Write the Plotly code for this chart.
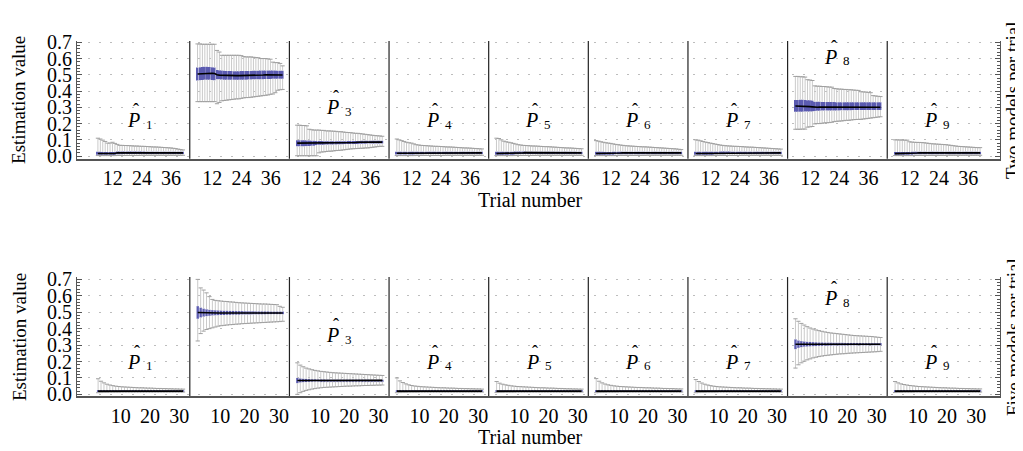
import plotly.graph_objects as go

# ---------------- data ----------------
TRIALS_TOP = list(range(1, 37))
TRIALS_BOT = list(range(1, 31))
PARAM_IDS = ["1", "2", "3", "4", "5", "6", "7", "8", "9"]
TICKS_TOP = [12, 24, 36]
TICKS_BOT = [10, 20, 30]
Y_TICKS = [0.0, 0.1, 0.2, 0.3, 0.4, 0.5, 0.6, 0.7]
ROW_LABELS = ["Two models per trial", "Five models per trial"]

# ----- two models per trial (36 trials) -----
TOP_HI = [
    [0.110,0.105,0.098,0.090,0.080,0.080,0.085,0.078,0.072,0.066,0.066,0.065,0.065,0.064,0.063,0.062,0.062,0.061,0.060,0.060,0.059,0.058,0.057,0.056,0.056,0.055,0.054,0.053,0.052,0.051,0.050,0.048,0.046,0.043,0.040,0.038],
    [0.690,0.690,0.688,0.688,0.688,0.688,0.688,0.688,0.650,0.640,0.620,0.620,0.620,0.620,0.620,0.620,0.620,0.620,0.618,0.612,0.610,0.610,0.610,0.608,0.606,0.605,0.600,0.600,0.600,0.598,0.596,0.578,0.575,0.575,0.570,0.555],
    [0.190,0.190,0.188,0.188,0.186,0.165,0.162,0.160,0.160,0.160,0.158,0.158,0.155,0.155,0.154,0.153,0.152,0.150,0.150,0.148,0.146,0.145,0.144,0.142,0.140,0.140,0.138,0.136,0.134,0.132,0.130,0.128,0.126,0.125,0.124,0.122],
    [0.105,0.100,0.095,0.090,0.085,0.082,0.080,0.075,0.070,0.068,0.066,0.065,0.064,0.063,0.062,0.061,0.060,0.060,0.059,0.058,0.057,0.056,0.056,0.055,0.054,0.053,0.052,0.051,0.050,0.050,0.049,0.048,0.047,0.046,0.045,0.044],
    [0.110,0.108,0.100,0.092,0.088,0.085,0.082,0.078,0.074,0.070,0.068,0.066,0.065,0.064,0.063,0.062,0.062,0.061,0.060,0.059,0.058,0.058,0.057,0.056,0.055,0.054,0.053,0.052,0.051,0.050,0.050,0.049,0.048,0.047,0.046,0.045],
    [0.095,0.092,0.088,0.085,0.082,0.080,0.078,0.075,0.072,0.070,0.068,0.066,0.064,0.063,0.062,0.061,0.060,0.059,0.058,0.057,0.057,0.056,0.055,0.054,0.053,0.052,0.051,0.050,0.049,0.048,0.047,0.046,0.045,0.044,0.042,0.040],
    [0.100,0.098,0.094,0.090,0.086,0.083,0.080,0.077,0.074,0.071,0.068,0.066,0.064,0.063,0.062,0.061,0.060,0.060,0.059,0.058,0.057,0.056,0.055,0.055,0.054,0.053,0.052,0.051,0.050,0.049,0.048,0.047,0.046,0.045,0.044,0.043],
    [0.490,0.490,0.488,0.488,0.486,0.470,0.468,0.465,0.432,0.430,0.430,0.428,0.428,0.426,0.425,0.424,0.416,0.414,0.412,0.412,0.410,0.410,0.408,0.408,0.406,0.405,0.404,0.396,0.395,0.394,0.392,0.390,0.372,0.370,0.368,0.366],
    [0.100,0.100,0.099,0.099,0.098,0.098,0.088,0.086,0.085,0.084,0.084,0.083,0.082,0.080,0.078,0.076,0.075,0.074,0.073,0.072,0.071,0.070,0.068,0.066,0.064,0.062,0.060,0.059,0.058,0.057,0.056,0.055,0.054,0.053,0.052,0.052],
]
TOP_Q3 = [
    [0.026,0.026,0.025,0.025,0.025,0.025,0.025,0.025,0.028,0.028,0.028,0.028,0.028,0.028,0.028,0.028,0.028,0.028,0.028,0.028,0.027,0.027,0.027,0.027,0.027,0.027,0.027,0.027,0.027,0.027,0.027,0.026,0.026,0.026,0.026,0.026],
    [0.545,0.546,0.548,0.550,0.550,0.548,0.546,0.545,0.530,0.528,0.526,0.525,0.524,0.524,0.523,0.522,0.522,0.522,0.523,0.523,0.524,0.524,0.524,0.525,0.525,0.525,0.526,0.526,0.526,0.526,0.526,0.526,0.526,0.525,0.525,0.525],
    [0.098,0.098,0.097,0.097,0.096,0.096,0.095,0.095,0.093,0.093,0.093,0.092,0.092,0.092,0.092,0.092,0.092,0.092,0.092,0.092,0.092,0.093,0.093,0.093,0.093,0.093,0.093,0.094,0.094,0.094,0.094,0.094,0.094,0.094,0.094,0.094],
    [0.027,0.027,0.027,0.026,0.026,0.026,0.026,0.026,0.027,0.027,0.027,0.027,0.027,0.027,0.027,0.027,0.027,0.027,0.027,0.027,0.027,0.027,0.027,0.027,0.027,0.027,0.026,0.026,0.026,0.026,0.026,0.026,0.026,0.026,0.026,0.026],
    [0.027,0.026,0.026,0.026,0.026,0.026,0.026,0.026,0.028,0.028,0.028,0.028,0.028,0.027,0.027,0.027,0.027,0.027,0.027,0.027,0.027,0.027,0.027,0.027,0.027,0.027,0.027,0.027,0.026,0.026,0.026,0.026,0.026,0.026,0.026,0.026],
    [0.026,0.026,0.026,0.026,0.025,0.025,0.025,0.026,0.027,0.027,0.027,0.027,0.027,0.027,0.027,0.027,0.027,0.027,0.027,0.027,0.027,0.027,0.027,0.027,0.026,0.026,0.026,0.026,0.026,0.026,0.026,0.026,0.026,0.026,0.026,0.026],
    [0.026,0.026,0.026,0.026,0.026,0.026,0.026,0.026,0.027,0.027,0.028,0.028,0.028,0.028,0.028,0.027,0.027,0.027,0.027,0.027,0.027,0.027,0.027,0.027,0.027,0.027,0.027,0.026,0.026,0.026,0.026,0.026,0.026,0.026,0.026,0.026],
    [0.345,0.345,0.346,0.346,0.345,0.344,0.343,0.342,0.335,0.334,0.334,0.333,0.333,0.332,0.332,0.332,0.332,0.331,0.331,0.331,0.331,0.331,0.331,0.331,0.331,0.331,0.331,0.331,0.331,0.331,0.331,0.331,0.331,0.331,0.331,0.331],
    [0.025,0.025,0.025,0.025,0.025,0.025,0.025,0.026,0.027,0.027,0.027,0.027,0.027,0.027,0.027,0.027,0.027,0.027,0.027,0.027,0.027,0.027,0.027,0.027,0.027,0.027,0.027,0.027,0.026,0.026,0.026,0.026,0.026,0.026,0.026,0.026],
]
TOP_MED = [
    [0.016,0.016,0.016,0.015,0.015,0.015,0.016,0.016,0.020,0.020,0.020,0.021,0.021,0.021,0.021,0.021,0.021,0.021,0.021,0.021,0.020,0.020,0.020,0.020,0.020,0.020,0.020,0.020,0.020,0.020,0.020,0.020,0.020,0.020,0.020,0.020],
    [0.505,0.506,0.507,0.509,0.510,0.511,0.510,0.508,0.500,0.498,0.497,0.497,0.496,0.496,0.495,0.495,0.495,0.495,0.495,0.495,0.496,0.496,0.497,0.497,0.498,0.498,0.499,0.499,0.500,0.500,0.500,0.501,0.501,0.500,0.500,0.499],
    [0.080,0.080,0.080,0.080,0.080,0.080,0.080,0.080,0.082,0.082,0.082,0.082,0.083,0.083,0.083,0.083,0.083,0.083,0.083,0.084,0.084,0.084,0.084,0.084,0.084,0.085,0.085,0.085,0.085,0.085,0.086,0.086,0.086,0.086,0.086,0.086],
    [0.017,0.017,0.016,0.016,0.016,0.016,0.016,0.017,0.019,0.019,0.020,0.020,0.020,0.020,0.020,0.020,0.020,0.020,0.020,0.020,0.020,0.020,0.020,0.020,0.020,0.020,0.020,0.020,0.020,0.020,0.020,0.020,0.020,0.020,0.020,0.020],
    [0.016,0.016,0.016,0.016,0.016,0.016,0.016,0.016,0.020,0.020,0.020,0.020,0.021,0.021,0.021,0.020,0.020,0.020,0.020,0.020,0.020,0.020,0.020,0.020,0.020,0.020,0.020,0.020,0.020,0.020,0.020,0.020,0.020,0.020,0.020,0.020],
    [0.016,0.016,0.015,0.015,0.015,0.015,0.016,0.016,0.019,0.019,0.019,0.020,0.020,0.020,0.020,0.020,0.020,0.020,0.020,0.020,0.020,0.020,0.020,0.020,0.020,0.020,0.020,0.020,0.020,0.020,0.020,0.020,0.020,0.020,0.020,0.020],
    [0.016,0.016,0.016,0.016,0.016,0.016,0.016,0.016,0.019,0.020,0.020,0.020,0.020,0.020,0.020,0.020,0.020,0.020,0.020,0.020,0.020,0.020,0.020,0.020,0.020,0.020,0.020,0.020,0.020,0.020,0.020,0.020,0.020,0.020,0.020,0.020],
    [0.308,0.308,0.308,0.307,0.306,0.305,0.304,0.303,0.300,0.300,0.301,0.301,0.300,0.300,0.300,0.299,0.299,0.300,0.300,0.300,0.300,0.300,0.301,0.301,0.300,0.300,0.300,0.300,0.300,0.300,0.300,0.301,0.301,0.300,0.300,0.300],
    [0.015,0.015,0.015,0.015,0.015,0.015,0.016,0.016,0.019,0.019,0.020,0.020,0.020,0.020,0.020,0.020,0.020,0.020,0.020,0.020,0.020,0.020,0.020,0.020,0.020,0.020,0.020,0.020,0.020,0.020,0.020,0.020,0.020,0.020,0.020,0.020],
]
TOP_Q1 = [
    [0.008,0.008,0.008,0.008,0.008,0.008,0.008,0.008,0.012,0.012,0.012,0.013,0.013,0.013,0.013,0.013,0.013,0.013,0.013,0.013,0.013,0.013,0.013,0.013,0.013,0.013,0.013,0.013,0.013,0.013,0.013,0.013,0.013,0.013,0.013,0.013],
    [0.465,0.466,0.468,0.470,0.470,0.470,0.468,0.466,0.472,0.472,0.471,0.470,0.470,0.469,0.469,0.469,0.469,0.469,0.470,0.470,0.470,0.471,0.471,0.472,0.472,0.472,0.473,0.473,0.474,0.474,0.474,0.475,0.475,0.475,0.475,0.475],
    [0.060,0.060,0.061,0.061,0.062,0.062,0.063,0.063,0.068,0.069,0.070,0.070,0.071,0.071,0.072,0.072,0.072,0.073,0.073,0.073,0.074,0.074,0.074,0.075,0.075,0.075,0.076,0.076,0.076,0.077,0.077,0.077,0.078,0.078,0.078,0.078],
    [0.009,0.009,0.009,0.009,0.009,0.009,0.009,0.009,0.012,0.012,0.012,0.012,0.013,0.013,0.013,0.013,0.013,0.013,0.013,0.013,0.013,0.013,0.013,0.013,0.013,0.013,0.013,0.013,0.013,0.013,0.013,0.013,0.013,0.013,0.013,0.013],
    [0.008,0.008,0.008,0.008,0.008,0.008,0.008,0.008,0.012,0.012,0.013,0.013,0.013,0.013,0.013,0.013,0.013,0.013,0.013,0.013,0.013,0.013,0.013,0.013,0.013,0.013,0.013,0.013,0.013,0.013,0.013,0.013,0.013,0.013,0.013,0.013],
    [0.008,0.008,0.008,0.008,0.008,0.008,0.008,0.008,0.011,0.011,0.012,0.012,0.012,0.012,0.012,0.012,0.012,0.012,0.012,0.012,0.012,0.012,0.012,0.012,0.012,0.012,0.012,0.012,0.012,0.012,0.012,0.012,0.012,0.012,0.012,0.012],
    [0.008,0.008,0.008,0.008,0.008,0.008,0.008,0.008,0.012,0.012,0.012,0.012,0.012,0.013,0.013,0.013,0.013,0.013,0.013,0.013,0.013,0.013,0.013,0.013,0.013,0.013,0.013,0.013,0.013,0.013,0.013,0.013,0.013,0.013,0.013,0.013],
    [0.272,0.272,0.273,0.273,0.274,0.274,0.275,0.275,0.278,0.279,0.279,0.280,0.280,0.280,0.280,0.281,0.281,0.281,0.281,0.282,0.282,0.282,0.282,0.282,0.283,0.283,0.283,0.283,0.283,0.284,0.284,0.284,0.284,0.284,0.284,0.284],
    [0.008,0.008,0.008,0.008,0.008,0.008,0.008,0.008,0.012,0.012,0.012,0.012,0.012,0.012,0.012,0.012,0.012,0.012,0.012,0.012,0.012,0.012,0.012,0.012,0.012,0.012,0.012,0.012,0.012,0.012,0.012,0.012,0.012,0.012,0.012,0.012],
]
TOP_LO = [
    [0.003,0.003,0.003,0.003,0.003,0.003,0.003,0.003,0.004,0.004,0.004,0.004,0.004,0.004,0.004,0.004,0.004,0.004,0.005,0.005,0.005,0.005,0.005,0.005,0.005,0.005,0.005,0.005,0.005,0.005,0.005,0.005,0.005,0.005,0.005,0.005],
    [0.335,0.335,0.335,0.335,0.335,0.335,0.335,0.335,0.322,0.330,0.340,0.342,0.344,0.346,0.348,0.350,0.352,0.352,0.355,0.358,0.360,0.360,0.362,0.364,0.366,0.368,0.370,0.372,0.374,0.376,0.380,0.382,0.390,0.405,0.408,0.410],
    [0.002,0.002,0.002,0.002,0.002,0.002,0.002,0.002,0.002,0.020,0.025,0.026,0.028,0.030,0.030,0.032,0.034,0.035,0.036,0.038,0.040,0.042,0.044,0.045,0.046,0.047,0.048,0.048,0.050,0.050,0.052,0.054,0.056,0.058,0.060,0.060],
    [0.003,0.003,0.003,0.003,0.003,0.003,0.003,0.003,0.004,0.004,0.004,0.004,0.004,0.004,0.004,0.004,0.004,0.004,0.004,0.004,0.005,0.005,0.005,0.005,0.005,0.005,0.005,0.005,0.005,0.005,0.005,0.005,0.005,0.005,0.005,0.005],
    [0.003,0.003,0.003,0.003,0.003,0.003,0.003,0.003,0.004,0.004,0.004,0.004,0.004,0.004,0.004,0.004,0.004,0.005,0.005,0.005,0.005,0.005,0.005,0.005,0.005,0.005,0.005,0.005,0.005,0.005,0.005,0.005,0.005,0.005,0.005,0.005],
    [0.003,0.003,0.003,0.003,0.003,0.003,0.003,0.003,0.003,0.004,0.004,0.004,0.004,0.004,0.004,0.004,0.004,0.004,0.004,0.004,0.004,0.005,0.005,0.005,0.005,0.005,0.005,0.005,0.005,0.005,0.005,0.005,0.005,0.005,0.005,0.005],
    [0.003,0.003,0.003,0.003,0.003,0.003,0.003,0.003,0.004,0.004,0.004,0.004,0.004,0.004,0.004,0.004,0.004,0.004,0.004,0.005,0.005,0.005,0.005,0.005,0.005,0.005,0.005,0.005,0.005,0.005,0.005,0.005,0.005,0.005,0.005,0.005],
    [0.165,0.165,0.165,0.166,0.166,0.178,0.180,0.182,0.198,0.200,0.200,0.202,0.204,0.205,0.206,0.208,0.212,0.214,0.215,0.216,0.218,0.220,0.220,0.222,0.224,0.225,0.226,0.226,0.228,0.230,0.232,0.234,0.236,0.238,0.240,0.242],
    [0.003,0.003,0.003,0.003,0.003,0.003,0.003,0.003,0.004,0.004,0.004,0.004,0.004,0.004,0.004,0.004,0.004,0.004,0.004,0.004,0.004,0.004,0.005,0.005,0.005,0.005,0.005,0.005,0.005,0.005,0.005,0.005,0.005,0.005,0.005,0.005],
]

# ----- five models per trial (30 trials) -----
BOT_HI = [
    [0.095,0.080,0.070,0.062,0.057,0.053,0.050,0.048,0.046,0.045,0.044,0.043,0.042,0.041,0.040,0.040,0.039,0.038,0.038,0.037,0.036,0.036,0.035,0.035,0.034,0.034,0.033,0.033,0.032,0.032],
    [0.700,0.648,0.635,0.618,0.595,0.578,0.572,0.570,0.568,0.566,0.565,0.563,0.562,0.560,0.558,0.557,0.556,0.555,0.554,0.553,0.552,0.551,0.550,0.550,0.549,0.548,0.547,0.546,0.536,0.530],
    [0.192,0.178,0.168,0.160,0.155,0.150,0.146,0.143,0.140,0.138,0.136,0.134,0.132,0.131,0.130,0.129,0.128,0.127,0.126,0.125,0.124,0.123,0.122,0.121,0.120,0.119,0.118,0.117,0.116,0.115],
    [0.100,0.082,0.072,0.064,0.058,0.054,0.051,0.049,0.047,0.046,0.045,0.044,0.043,0.042,0.041,0.040,0.040,0.039,0.038,0.038,0.037,0.036,0.036,0.035,0.035,0.034,0.034,0.033,0.033,0.032],
    [0.078,0.068,0.062,0.058,0.055,0.052,0.050,0.048,0.047,0.046,0.045,0.044,0.043,0.042,0.041,0.040,0.040,0.039,0.038,0.038,0.037,0.036,0.036,0.035,0.034,0.034,0.033,0.033,0.032,0.032],
    [0.096,0.080,0.070,0.063,0.058,0.055,0.052,0.050,0.048,0.047,0.046,0.045,0.044,0.043,0.042,0.042,0.041,0.040,0.040,0.039,0.038,0.038,0.037,0.036,0.036,0.035,0.035,0.034,0.033,0.033],
    [0.090,0.078,0.069,0.062,0.057,0.053,0.050,0.048,0.046,0.045,0.044,0.043,0.042,0.041,0.040,0.040,0.039,0.038,0.038,0.037,0.036,0.036,0.035,0.035,0.034,0.034,0.033,0.033,0.032,0.032],
    [0.460,0.445,0.432,0.422,0.412,0.404,0.398,0.392,0.388,0.384,0.380,0.377,0.374,0.372,0.370,0.368,0.366,0.364,0.362,0.360,0.358,0.357,0.356,0.355,0.354,0.353,0.352,0.350,0.348,0.346],
    [0.078,0.070,0.064,0.060,0.057,0.054,0.052,0.050,0.048,0.047,0.046,0.045,0.044,0.043,0.042,0.041,0.040,0.040,0.039,0.038,0.038,0.037,0.036,0.036,0.035,0.035,0.034,0.034,0.033,0.033],
]
BOT_Q3 = [
    [0.025,0.024,0.024,0.024,0.024,0.024,0.024,0.024,0.024,0.024,0.024,0.024,0.024,0.024,0.024,0.024,0.024,0.024,0.024,0.024,0.024,0.024,0.024,0.024,0.024,0.024,0.024,0.024,0.024,0.024],
    [0.537,0.528,0.522,0.518,0.515,0.513,0.512,0.511,0.510,0.509,0.509,0.508,0.508,0.507,0.507,0.507,0.506,0.506,0.506,0.506,0.505,0.505,0.505,0.505,0.505,0.504,0.504,0.504,0.504,0.504],
    [0.100,0.097,0.095,0.094,0.093,0.092,0.092,0.091,0.091,0.091,0.090,0.090,0.090,0.090,0.090,0.090,0.090,0.090,0.090,0.090,0.090,0.090,0.090,0.090,0.090,0.089,0.089,0.089,0.089,0.089],
    [0.025,0.025,0.024,0.024,0.024,0.024,0.024,0.024,0.024,0.024,0.024,0.024,0.024,0.024,0.024,0.024,0.024,0.024,0.024,0.024,0.024,0.024,0.024,0.024,0.024,0.024,0.024,0.024,0.024,0.024],
    [0.024,0.024,0.024,0.024,0.024,0.024,0.024,0.024,0.024,0.024,0.024,0.024,0.024,0.024,0.024,0.024,0.024,0.024,0.024,0.024,0.024,0.024,0.024,0.024,0.024,0.024,0.024,0.024,0.024,0.024],
    [0.025,0.024,0.024,0.024,0.024,0.024,0.024,0.024,0.024,0.024,0.024,0.024,0.024,0.024,0.024,0.024,0.024,0.024,0.024,0.024,0.024,0.024,0.024,0.024,0.024,0.024,0.024,0.024,0.024,0.024],
    [0.025,0.024,0.024,0.024,0.024,0.024,0.024,0.024,0.024,0.024,0.024,0.024,0.024,0.024,0.024,0.024,0.024,0.024,0.024,0.024,0.024,0.024,0.024,0.024,0.024,0.024,0.024,0.024,0.024,0.024],
    [0.335,0.328,0.324,0.322,0.320,0.319,0.318,0.317,0.316,0.316,0.315,0.315,0.315,0.314,0.314,0.314,0.314,0.313,0.313,0.313,0.313,0.313,0.313,0.312,0.312,0.312,0.312,0.312,0.312,0.312],
    [0.024,0.024,0.024,0.024,0.024,0.024,0.024,0.024,0.024,0.024,0.024,0.024,0.024,0.024,0.024,0.024,0.024,0.024,0.024,0.024,0.024,0.024,0.024,0.024,0.024,0.024,0.024,0.024,0.024,0.024],
]
BOT_MED = [
    [0.020,0.020,0.020,0.020,0.020,0.020,0.020,0.020,0.020,0.020,0.020,0.020,0.020,0.020,0.020,0.020,0.020,0.020,0.020,0.020,0.020,0.020,0.020,0.020,0.020,0.020,0.020,0.020,0.020,0.020],
    [0.498,0.497,0.496,0.495,0.495,0.495,0.495,0.495,0.495,0.495,0.495,0.495,0.495,0.495,0.495,0.495,0.495,0.495,0.495,0.495,0.495,0.495,0.495,0.495,0.495,0.495,0.495,0.495,0.495,0.495],
    [0.084,0.084,0.084,0.084,0.084,0.085,0.085,0.085,0.085,0.085,0.085,0.085,0.085,0.085,0.085,0.085,0.085,0.085,0.085,0.085,0.085,0.085,0.085,0.085,0.085,0.085,0.085,0.085,0.085,0.085],
    [0.020,0.020,0.020,0.020,0.020,0.020,0.020,0.020,0.020,0.020,0.020,0.020,0.020,0.020,0.020,0.020,0.020,0.020,0.020,0.020,0.020,0.020,0.020,0.020,0.020,0.020,0.020,0.020,0.020,0.020],
    [0.020,0.020,0.020,0.020,0.020,0.020,0.020,0.020,0.020,0.020,0.020,0.020,0.020,0.020,0.020,0.020,0.020,0.020,0.020,0.020,0.020,0.020,0.020,0.020,0.020,0.020,0.020,0.020,0.020,0.020],
    [0.020,0.020,0.020,0.020,0.020,0.020,0.020,0.020,0.020,0.020,0.020,0.020,0.020,0.020,0.020,0.020,0.020,0.020,0.020,0.020,0.020,0.020,0.020,0.020,0.020,0.020,0.020,0.020,0.020,0.020],
    [0.020,0.020,0.020,0.020,0.020,0.020,0.020,0.020,0.020,0.020,0.020,0.020,0.020,0.020,0.020,0.020,0.020,0.020,0.020,0.020,0.020,0.020,0.020,0.020,0.020,0.020,0.020,0.020,0.020,0.020],
    [0.305,0.305,0.305,0.305,0.305,0.305,0.305,0.305,0.305,0.305,0.305,0.305,0.305,0.305,0.305,0.305,0.305,0.305,0.305,0.305,0.305,0.305,0.305,0.305,0.305,0.305,0.305,0.305,0.305,0.305],
    [0.020,0.020,0.020,0.020,0.020,0.020,0.020,0.020,0.020,0.020,0.020,0.020,0.020,0.020,0.020,0.020,0.020,0.020,0.020,0.020,0.020,0.020,0.020,0.020,0.020,0.020,0.020,0.020,0.020,0.020],
]
BOT_Q1 = [
    [0.015,0.016,0.016,0.016,0.016,0.016,0.016,0.016,0.016,0.016,0.016,0.016,0.016,0.016,0.016,0.016,0.016,0.016,0.016,0.016,0.016,0.016,0.016,0.016,0.016,0.016,0.016,0.016,0.016,0.016],
    [0.460,0.468,0.473,0.476,0.478,0.480,0.481,0.482,0.483,0.483,0.484,0.484,0.485,0.485,0.485,0.486,0.486,0.486,0.486,0.487,0.487,0.487,0.487,0.487,0.488,0.488,0.488,0.488,0.488,0.488],
    [0.068,0.072,0.074,0.075,0.076,0.077,0.078,0.078,0.079,0.079,0.080,0.080,0.080,0.080,0.080,0.080,0.080,0.080,0.080,0.080,0.080,0.080,0.080,0.080,0.080,0.080,0.080,0.080,0.080,0.080],
    [0.015,0.016,0.016,0.016,0.016,0.016,0.016,0.016,0.016,0.016,0.016,0.016,0.016,0.016,0.016,0.016,0.016,0.016,0.016,0.016,0.016,0.016,0.016,0.016,0.016,0.016,0.016,0.016,0.016,0.016],
    [0.016,0.016,0.016,0.016,0.016,0.016,0.016,0.016,0.016,0.016,0.016,0.016,0.016,0.016,0.016,0.016,0.016,0.016,0.016,0.016,0.016,0.016,0.016,0.016,0.016,0.016,0.016,0.016,0.016,0.016],
    [0.015,0.016,0.016,0.016,0.016,0.016,0.016,0.016,0.016,0.016,0.016,0.016,0.016,0.016,0.016,0.016,0.016,0.016,0.016,0.016,0.016,0.016,0.016,0.016,0.016,0.016,0.016,0.016,0.016,0.016],
    [0.015,0.016,0.016,0.016,0.016,0.016,0.016,0.016,0.016,0.016,0.016,0.016,0.016,0.016,0.016,0.016,0.016,0.016,0.016,0.016,0.016,0.016,0.016,0.016,0.016,0.016,0.016,0.016,0.016,0.016],
    [0.275,0.283,0.287,0.290,0.291,0.292,0.293,0.294,0.295,0.295,0.296,0.296,0.296,0.297,0.297,0.297,0.297,0.297,0.298,0.298,0.298,0.298,0.298,0.298,0.298,0.298,0.298,0.298,0.298,0.298],
    [0.016,0.016,0.016,0.016,0.016,0.016,0.016,0.016,0.016,0.016,0.016,0.016,0.016,0.016,0.016,0.016,0.016,0.016,0.016,0.016,0.016,0.016,0.016,0.016,0.016,0.016,0.016,0.016,0.016,0.016],
]
BOT_LO = [
    [0.010,0.011,0.012,0.012,0.013,0.013,0.013,0.013,0.014,0.014,0.014,0.014,0.014,0.014,0.014,0.014,0.014,0.014,0.014,0.014,0.014,0.014,0.014,0.014,0.014,0.014,0.014,0.014,0.014,0.014],
    [0.325,0.370,0.385,0.395,0.400,0.405,0.410,0.415,0.418,0.420,0.422,0.424,0.425,0.427,0.428,0.430,0.431,0.432,0.433,0.434,0.435,0.436,0.437,0.438,0.439,0.440,0.441,0.442,0.443,0.445],
    [0.000,0.010,0.018,0.024,0.028,0.032,0.035,0.038,0.040,0.042,0.043,0.044,0.045,0.046,0.047,0.048,0.049,0.050,0.050,0.051,0.052,0.052,0.053,0.054,0.054,0.055,0.055,0.056,0.056,0.057],
    [0.010,0.011,0.012,0.012,0.013,0.013,0.013,0.013,0.014,0.014,0.014,0.014,0.014,0.014,0.014,0.014,0.014,0.014,0.014,0.014,0.014,0.014,0.014,0.014,0.014,0.014,0.014,0.014,0.014,0.014],
    [0.011,0.012,0.012,0.013,0.013,0.013,0.013,0.014,0.014,0.014,0.014,0.014,0.014,0.014,0.014,0.014,0.014,0.014,0.014,0.014,0.014,0.014,0.014,0.014,0.014,0.014,0.014,0.014,0.014,0.014],
    [0.010,0.011,0.012,0.012,0.013,0.013,0.013,0.013,0.014,0.014,0.014,0.014,0.014,0.014,0.014,0.014,0.014,0.014,0.014,0.014,0.014,0.014,0.014,0.014,0.014,0.014,0.014,0.014,0.014,0.014],
    [0.010,0.011,0.012,0.012,0.013,0.013,0.013,0.013,0.014,0.014,0.014,0.014,0.014,0.014,0.014,0.014,0.014,0.014,0.014,0.014,0.014,0.014,0.014,0.014,0.014,0.014,0.014,0.014,0.014,0.014],
    [0.160,0.180,0.192,0.202,0.210,0.216,0.222,0.226,0.230,0.233,0.236,0.238,0.240,0.242,0.244,0.246,0.247,0.248,0.250,0.251,0.252,0.253,0.254,0.255,0.256,0.257,0.258,0.259,0.260,0.262],
    [0.011,0.012,0.012,0.013,0.013,0.013,0.013,0.014,0.014,0.014,0.014,0.014,0.014,0.014,0.014,0.014,0.014,0.014,0.014,0.014,0.014,0.014,0.014,0.014,0.014,0.014,0.014,0.014,0.014,0.014],
]

# ---------------- layout constants ----------------
LABEL_Y_TOP = [0.22, 0.82, 0.30, 0.22, 0.22, 0.22, 0.22, 0.61, 0.22]
LABEL_Y_BOT = [0.20, 0.80, 0.36, 0.20, 0.20, 0.20, 0.20, 0.585, 0.20]

FONT = "Liberation Serif"
BLUE = "#5b5bb0"
WHISKER = "#cacaca"
CAP = "#a0a0a0"
AXIS = "#555555"

ROWS = [
    dict(trials=TRIALS_TOP, hi=TOP_HI, q3=TOP_Q3, med=TOP_MED, q1=TOP_Q1, lo=TOP_LO,
         span=41.0, xr=[-7.6, 372.2], yr=[-0.016, 0.708], dom=[0.6685, 1.0],
         ticks=TICKS_TOP, tshift=-4.9, div=-2.2, labely=LABEL_Y_TOP, xa="x", ya="y"),
    dict(trials=TRIALS_BOT, hi=BOT_HI, q3=BOT_Q3, med=BOT_MED, q1=BOT_Q1, lo=BOT_LO,
         span=34.0, xr=[-6.2, 308.8], yr=[-0.010, 0.714], dom=[0.0, 0.335],
         ticks=TICKS_BOT, tshift=-1.3, div=-1.7, labely=LABEL_Y_BOT, xa="x2", ya="y2"),
]

fig = go.Figure()
annotations = []
shapes = []

for r, row in enumerate(ROWS):
    span = row["span"]
    for g in range(len(PARAM_IDS)):
        xs = [g * span + t for t in row["trials"]]
        hi, q3, med, q1, lo = row["hi"][g], row["q3"][g], row["med"][g], row["q1"][g], row["lo"][g]
        n = len(xs)
        fig.add_trace(go.Bar(x=xs, y=[a - b for a, b in zip(q3, q1)], base=q1, width=0.8,
                             marker=dict(color=BLUE, line=dict(width=0)),
                             xaxis=row["xa"], yaxis=row["ya"], showlegend=False, hoverinfo="skip"))
        fig.add_trace(go.Scatter(x=xs, y=q3, mode="markers", marker=dict(size=1, opacity=0),
                                 error_y=dict(type="data", symmetric=False,
                                              array=[a - b for a, b in zip(hi, q3)], arrayminus=[0] * n,
                                              color=WHISKER, thickness=1, width=0),
                                 xaxis=row["xa"], yaxis=row["ya"], showlegend=False, hoverinfo="skip"))
        fig.add_trace(go.Scatter(x=xs, y=q1, mode="markers", marker=dict(size=1, opacity=0),
                                 error_y=dict(type="data", symmetric=False,
                                              array=[0] * n, arrayminus=[a - b for a, b in zip(q1, lo)],
                                              color=WHISKER, thickness=1, width=0),
                                 xaxis=row["xa"], yaxis=row["ya"], showlegend=False, hoverinfo="skip"))
        fig.add_trace(go.Scatter(x=xs + xs, y=hi + lo, mode="markers",
                                 marker=dict(symbol="line-ew", size=3, line=dict(color=CAP, width=1)),
                                 xaxis=row["xa"], yaxis=row["ya"], showlegend=False, hoverinfo="skip"))
        fig.add_trace(go.Scatter(x=xs, y=med, mode="lines", line=dict(color="black", width=1.6),
                                 xaxis=row["xa"], yaxis=row["ya"], showlegend=False, hoverinfo="skip"))

        xc = g * span + (row["trials"][0] + row["trials"][-1]) / 2.0
        ly = row["labely"][g]
        annotations.append(dict(x=xc, y=ly, xref=row["xa"], yref=row["ya"], text="<i>P</i>",
                                showarrow=False, xshift=-7, xanchor="center", yanchor="middle",
                                font=dict(family=FONT, size=20, color="black")))
        annotations.append(dict(x=xc, y=ly, xref=row["xa"], yref=row["ya"], text=PARAM_IDS[g],
                                showarrow=False, xshift=9, yshift=-4, xanchor="center", yanchor="middle",
                                font=dict(family=FONT, size=13, color="black")))
        annotations.append(dict(x=xc, y=ly, xref=row["xa"], yref=row["ya"], text="ˆ",
                                showarrow=False, xshift=-4, yshift=10, xanchor="center", yanchor="middle",
                                font=dict(family=FONT, size=18, color="black")))
        if g > 0:
            xd = g * span + row["div"]
            shapes.append(dict(type="line", xref=row["xa"], yref=row["ya"] + " domain",
                               x0=xd, x1=xd, y0=0, y1=1, line=dict(color="#222222", width=1.2)))

    tickvals = [g * span + t + row["tshift"] for g in range(len(PARAM_IDS)) for t in row["ticks"]]
    ticktext = [str(t) for g in range(len(PARAM_IDS)) for t in row["ticks"]]
    xkey = "xaxis" if r == 0 else "xaxis2"
    ykey = "yaxis" if r == 0 else "yaxis2"
    fig.update_layout(**{
        xkey: dict(domain=[0, 1], range=row["xr"], anchor=row["ya"], showline=True, linecolor=AXIS,
                   linewidth=1.5, ticks="", tickvals=tickvals, ticktext=ticktext, showgrid=False,
                   zeroline=False, ticklabelstandoff=1,
                   tickfont=dict(family=FONT, size=20, color="black")),
        ykey: dict(domain=row["dom"], range=row["yr"], anchor=row["xa"], tickvals=Y_TICKS,
                   ticktext=["%.1f" % v for v in Y_TICKS], ticks="inside", ticklen=5, tickcolor=AXIS,
                   showline=True, linecolor=AXIS, linewidth=1, mirror="ticks", zeroline=False,
                   showgrid=True, gridcolor="#bdbdbd", griddash="2px,9px", gridwidth=1,
                   minor=dict(dtick=0.02, ticklen=3, ticks="inside", tickcolor=AXIS, showgrid=False),
                   tickfont=dict(family=FONT, size=20, color="black")),
    })

# axis titles and row labels (paper coords of the 923x355 plot area)
for yc, xt_y, lab in [(0.834, 0.552, ROW_LABELS[0]), (0.166, -0.115, ROW_LABELS[1])]:
    annotations.append(dict(x=0, y=yc, xref="paper", yref="paper", text="Estimation value",
                            textangle=-90, showarrow=False, xshift=-58, xanchor="center", yanchor="middle",
                            font=dict(family=FONT, size=19, color="black")))
    annotations.append(dict(x=1.0141, y=yc, xref="paper", yref="paper", text=lab,
                            textangle=-90, showarrow=False, xanchor="center", yanchor="middle",
                            font=dict(family=FONT, size=19, color="black")))
    annotations.append(dict(x=0.491, y=xt_y, xref="paper", yref="paper", text="Trial number",
                            showarrow=False, xanchor="center", yanchor="middle",
                            font=dict(family=FONT, size=20, color="black")))

# the page adds an 8px body margin, so the figure is 8px smaller and margins shifted
fig.update_layout(
    width=1015, height=443,
    margin=dict(l=69, r=23, t=33, b=55),
    paper_bgcolor="white", plot_bgcolor="white",
    barmode="overlay", showlegend=False,
    annotations=annotations, shapes=shapes,
)

fig.write_html("out.html")
